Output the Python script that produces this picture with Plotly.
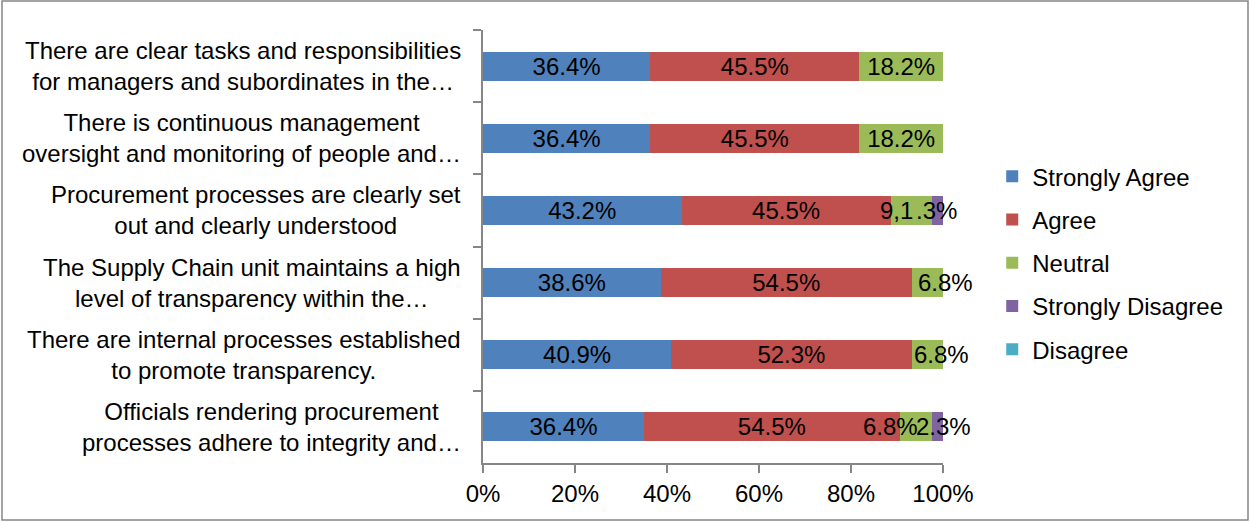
import plotly.graph_objects as go

categories = [
    "There are clear tasks and responsibilities<br>for managers and subordinates in the…",
    "There is continuous management<br>oversight and monitoring of people and…",
    "Procurement processes are clearly set<br>out and clearly understood",
    "The Supply Chain unit maintains a high<br>level of transparency within the…",
    "There are internal processes established<br>to promote transparency.",
    "Officials rendering procurement<br>processes adhere to integrity and…",
]
row_keys = ["r1", "r2", "r3", "r4", "r5", "r6"]

series_names = ["Strongly Agree", "Agree", "Neutral", "Strongly Disagree", "Disagree"]
strongly_agree = [36.4, 36.4, 43.2, 38.6, 40.9, 35.0]
agree = [45.5, 45.5, 45.5, 54.5, 52.3, 55.6]
neutral = [18.2, 18.2, 9.1, 6.8, 6.8, 7.0]
strongly_disagree = [0, 0, 2.3, 0, 0, 2.4]
disagree = [0, 0, 0, 0, 0, 0]

strongly_agree_labels = ["36.4%", "36.4%", "43.2%", "38.6%", "40.9%", "36.4%"]
agree_labels = ["45.5%", "45.5%", "45.5%", "54.5%", "52.3%", "54.5%"]
neutral_labels = ["18.2%", "18.2%", "9,1", "6.8%", "6.8%", "6.8%"]
strongly_disagree_labels = ["", "", ".3%", "", "", "2.3%"]
disagree_labels = ["", "", "", "", "", ""]

x_ticks = [0, 20, 40, 60, 80, 100]
x_tick_labels = ["0%", "20%", "40%", "60%", "80%", "100%"]

colors = ["#4F81BD", "#C0504D", "#9BBB59", "#8064A2", "#4BACC6"]
FONT = "Liberation Sans, Arial, sans-serif"
FS = 24

all_values = [strongly_agree, agree, neutral, strongly_disagree, disagree]
all_labels = [strongly_agree_labels, agree_labels, neutral_labels,
              strongly_disagree_labels, disagree_labels]

# labels placed manually in the original (series index, row index) -> (segment anchor, xanchor, xshift)
custom_label_place = {
    (2, 2): ("start", "center", 6),
    (2, 3): ("start", "left", 4),
    (2, 4): ("start", "left", 0),
    (2, 5): ("end", "right", -12),
    (3, 5): ("end", "center", 0),
    (3, 2): ("center", "center", -1),
}

fig = go.Figure()
for si, (name, vals, labs, col) in enumerate(zip(series_names, all_values, all_labels, colors)):
    texts = [("" if (si, ri) in custom_label_place else t) for ri, t in enumerate(labs)]
    fig.add_trace(go.Bar(
        name=name, y=row_keys, x=vals, orientation="h",
        marker=dict(color=col, line=dict(width=0)),
        text=texts, textposition="inside", insidetextanchor="middle",
        constraintext="none", cliponaxis=False,
        textfont=dict(family=FONT, size=FS, color="black"),
        legendgroup=name, hoverinfo="skip",
    ))

annotations = []
# custom data labels positioned from the segment boundaries
for (si, ri), (anc, xa, xs) in custom_label_place.items():
    total = sum(v[ri] for v in all_values)
    start = sum(all_values[k][ri] for k in range(si)) / total * 100
    end = start + all_values[si][ri] / total * 100
    xpos = {"start": start, "end": end, "center": (start + end) / 2}[anc]
    annotations.append(dict(
        x=xpos, y=row_keys[ri], xref="x", yref="y", text=all_labels[si][ri],
        xanchor=xa, yanchor="middle", xshift=xs, showarrow=False,
        font=dict(family=FONT, size=FS, color="black"),
    ))

# category labels, centered lines like the original
for key, cat in zip(row_keys, categories):
    annotations.append(dict(
        x=0, y=key, xref="paper", yref="y", text=cat, xanchor="right",
        yanchor="middle", xshift=-20, align="center", showarrow=False,
        font=dict(family=FONT, size=FS, color="black"),
    ))

fig.update_layout(
    width=1250, height=522,
    margin=dict(l=483, r=307, t=30, b=59),
    paper_bgcolor="white", plot_bgcolor="white",
    barmode="stack", barnorm="percent", bargap=0.6,
    font=dict(family=FONT, size=FS, color="black"),
    showlegend=True,
    legend=dict(
        x=1.107, y=0.713, xanchor="left", yanchor="top",
        traceorder="grouped", tracegroupgap=9,
        font=dict(family=FONT, size=FS, color="black"),
        bgcolor="rgba(0,0,0,0)",
    ),
    xaxis=dict(
        range=[0, 100], tickvals=x_ticks, ticktext=x_tick_labels,
        showgrid=False, zeroline=False, showline=True,
        linecolor="#868686", linewidth=1.5,
        ticks="outside", ticklen=8, tickcolor="#868686", tickwidth=1.5,
        tickfont=dict(family=FONT, size=FS, color="black"),
        fixedrange=True,
    ),
    yaxis=dict(
        categoryorder="array", categoryarray=row_keys, autorange="reversed",
        showticklabels=False, showgrid=False, zeroline=False, showline=True,
        linecolor="#868686", linewidth=1.5,
        ticks="outside", ticklen=8, tickcolor="#868686", tickwidth=1.5,
        tickson="boundaries", fixedrange=True,
    ),
    annotations=annotations,
    shapes=[dict(
        type="rect", xref="paper", yref="paper",
        x0=(2 - 483) / 460, x1=(1248 - 483) / 460,
        y0=1 - (520 - 30) / 433, y1=1 + (30 - 1) / 433,
        line=dict(color="#868686", width=1.5), fillcolor="rgba(0,0,0,0)", layer="below",
    )],
)

fig.write_html("out.html")
